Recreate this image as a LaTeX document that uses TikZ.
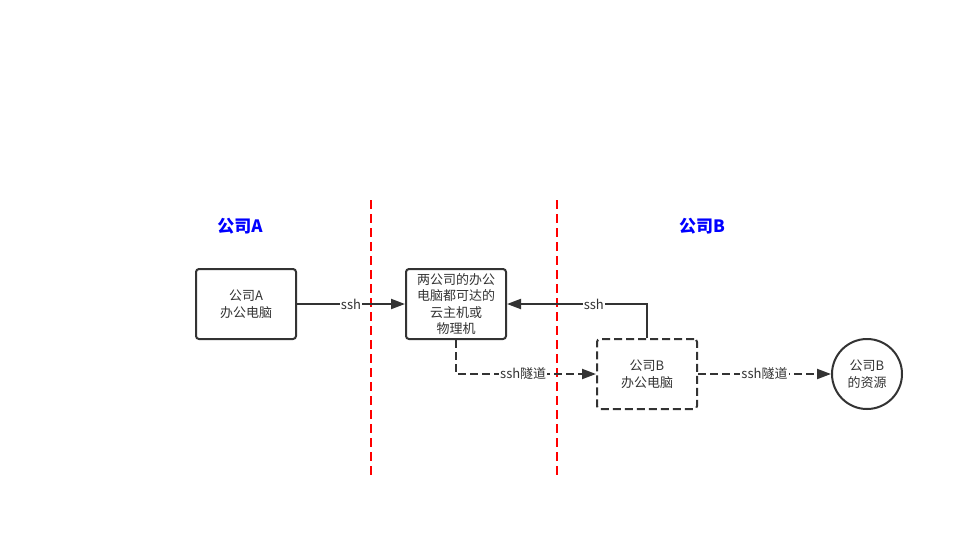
\documentclass[tikz,border=0pt]{standalone}
\usepackage{fontspec}
\setmainfont{Noto Sans CJK SC}
\usetikzlibrary{arrows.meta}
\definecolor{ink}{HTML}{333333}
\definecolor{zone}{HTML}{0000FF}

\tikzset{
    hostbox/.style={draw=ink, line width=2pt, rounded corners=3pt, minimum width=100pt, minimum height=70pt, align=center, text=ink, font=\fontsize{13}{16.5}\selectfont},
    linkline/.style={draw=ink, line width=2pt, -{Triangle[length=14pt,width=10pt]}},
    tunnel/.style={linkline, dash pattern=on 8pt off 4pt},
    linklabel/.style={fill=white, text=ink, inner sep=1pt, font=\fontsize{13}{15}\selectfont},
    zonelabel/.style={text=zone, font=\bfseries\fontsize{17}{19}\selectfont},
    border/.style={draw=red, line width=2pt, dash pattern=on 9pt off 5pt}
}

\begin{document}
\begin{tikzpicture}[x=1pt, y=-1pt]
    %canvas
    \fill[white] (0,0) rectangle (964,542);
    \useasboundingbox (0,0) rectangle (964,542);

    %company borders
    \draw[border] (371,200) -- (371,476);
    \draw[border] (557,200) -- (557,476);
    \node[zonelabel] (zoneA) at (240,226) {公司A};
    \node[zonelabel] (zoneB) at (702,226) {公司B};

    %hosts
    \node[hostbox] (pcA) at (246,304) {公司A\\办公电脑};
    \node[hostbox] (cloud) at (456,304) {两公司的办公\\电脑都可达的\\云主机或\\物理机};
    \node[hostbox, dash pattern=on 8pt off 4pt] (pcB) at (647,374) {公司B\\办公电脑};
    \node[draw=ink, line width=2pt, circle, minimum size=70pt, inner sep=0pt, align=center, text=ink, font=\fontsize{13}{16.5}\selectfont] (res) at (867,374) {公司B\\的资源};

    %links
    \draw[linkline] (pcA) -- node[linklabel] {ssh} (cloud);
    \draw[linkline] (pcB.north) |- node[linklabel, pos=0.69] {ssh} (cloud.east);
    \draw[tunnel] (cloud.south) |- node[linklabel, pos=0.74] {ssh隧道} (pcB.west);
    \draw[tunnel] (pcB) -- node[linklabel, pos=0.5] {ssh隧道} (res);
\end{tikzpicture}
\end{document}
